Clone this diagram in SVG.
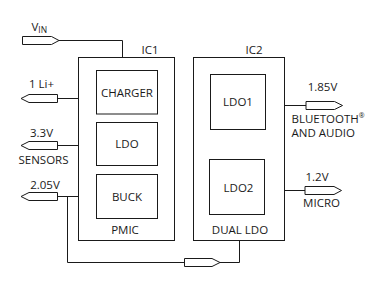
<svg xmlns="http://www.w3.org/2000/svg" width="380" height="295" viewBox="0 0 380 295">
<style>
.box{fill:#fff;stroke:#1a1a1a;stroke-width:1}
.flag{fill:#fff;stroke:#1a1a1a;stroke-width:1}
.wire{fill:none;stroke:#1a1a1a;stroke-width:1}
text{font-family:"Open Sans","Noto Sans","DejaVu Sans",sans-serif;font-size:11.5px;fill:#1a1a1a}
.m{text-anchor:middle}
</style>
<rect width="380" height="295" fill="#fff"/>
<g id="connectors">
<path class="wire" d="M59 40.5H122.5V57.5"/>
<path class="wire" d="M57.5 98.5H96.5"/>
<path class="wire" d="M57.5 145.5H96.5"/>
<path class="wire" d="M57.5 196.5H96.5"/>
<path class="wire" d="M67.5 196.5V262.5H184.5"/>
<path class="wire" d="M220 262.5H239.5V240.5"/>
<path class="wire" d="M265.5 105.5H306"/>
<path class="wire" d="M264.5 190.5H305"/>
</g>
<g id="IC1">
<rect class="box" x="78.5" y="57.5" width="96" height="183"/>
<text class="m" x="150" y="53.5">IC1</text>
<text class="m" x="125" y="234">PMIC</text>
</g>
<g id="CHARGER">
<rect class="box" x="96.5" y="70.5" width="61" height="43.5"/>
<text class="m" x="127" y="96.5">CHARGER</text>
</g>
<g id="LDO">
<rect class="box" x="96.5" y="122.5" width="61" height="43"/>
<text class="m" x="127" y="148">LDO</text>
</g>
<g id="BUCK">
<rect class="box" x="96.5" y="174.5" width="61" height="44"/>
<text class="m" x="127" y="200.5">BUCK</text>
</g>
<g id="IC2">
<rect class="box" x="193.5" y="57.5" width="91" height="183"/>
<text class="m" x="254" y="53.5">IC2</text>
<text class="m" x="240" y="234">DUAL LDO</text>
</g>
<g id="LDO1">
<rect class="box" x="210.5" y="74.5" width="55" height="55"/>
<text class="m" x="238" y="106">LDO1</text>
</g>
<g id="LDO2">
<rect class="box" x="209.5" y="159.5" width="55" height="55"/>
<text class="m" x="238.5" y="191.5">LDO2</text>
</g>
<g id="VIN">
<path class="flag" d="M22.5 36.5H51.5L59 40.5L51.5 44.5H22.5Z"/>
<text x="31.5" y="30.5">V<tspan font-size="8.5px" dy="2.5">IN</tspan></text>
</g>
<g id="LiIon">
<path class="flag" d="M57.5 94.5H29L21 98.5L29 102.5H57.5Z"/>
<text class="m" x="41.5" y="87.5">1 Li+</text>
</g>
<g id="SENSORS">
<path class="flag" d="M57.5 141.5H29L21 145.5L29 149.5H57.5Z"/>
<text class="m" x="41.5" y="136.5">3.3V</text>
<text class="m" x="43.5" y="163.5">SENSORS</text>
</g>
<g id="V205">
<path class="flag" d="M57.5 192.5H29L21 196.5L29 200.5H57.5Z"/>
<text class="m" x="45" y="188.5">2.05V</text>
</g>
<g id="FEED">
<path class="flag" d="M184.5 258.5H212L220 262.5L212 266.5H184.5Z"/>
</g>
<g id="BLUETOOTH">
<path class="flag" d="M306 101.5H334.5L342.5 105.5L334.5 109.5H306Z"/>
<text class="m" x="322.5" y="91">1.85V</text>
<text x="291.5" y="122.5">BLUETOOTH<tspan font-size="7px" dy="-5">®</tspan></text>
<text x="291.5" y="136.5">AND AUDIO</text>
</g>
<g id="MICRO">
<path class="flag" d="M305 186.5H334L341.5 190.5L334 194.5H305Z"/>
<text class="m" x="317" y="180.5">1.2V</text>
<text class="m" x="321.5" y="206.5">MICRO</text>
</g>
</svg>
